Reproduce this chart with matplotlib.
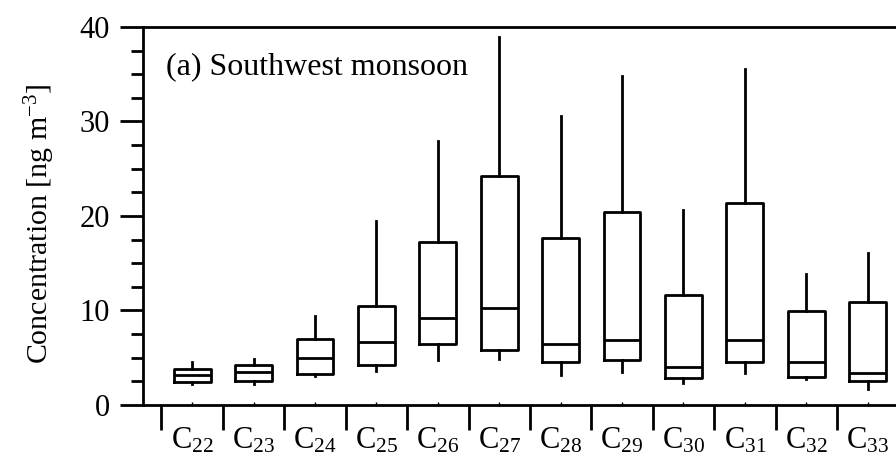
import matplotlib
matplotlib.use("Agg")
import matplotlib.pyplot as plt

plt.rcParams["font.family"] = ["Liberation Serif", "DejaVu Serif"]
plt.rcParams["mathtext.fontset"] = "custom"
plt.rcParams["mathtext.rm"] = "Liberation Serif"
plt.rcParams["mathtext.it"] = "Liberation Serif:italic"

# n-alkane homologues C22..C33
carbons = [22, 23, 24, 25, 26, 27, 28, 29, 30, 31, 32, 33]
whisker_low = [2.2, 2.2, 3.1, 3.6, 4.8, 4.9, 3.2, 3.5, 2.3, 3.4, 2.7, 1.7]
q1 = [2.4, 2.5, 3.3, 4.2, 6.5, 5.8, 4.5, 4.8, 2.9, 4.6, 3.0, 2.5]
median = [3.2, 3.5, 5.0, 6.7, 9.2, 10.3, 6.5, 6.9, 4.0, 6.9, 4.5, 3.4]
q3 = [3.8, 4.2, 7.0, 10.5, 17.2, 24.2, 17.7, 20.4, 11.6, 21.4, 9.9, 10.9]
whisker_high = [4.5, 4.9, 9.4, 19.5, 27.9, 38.9, 30.6, 34.8, 20.6, 35.6, 13.9, 16.1]

stats = []
for i, c in enumerate(carbons):
    stats.append({
        "label": f"C$_{{{c}}}$",
        "whislo": whisker_low[i],
        "q1": q1[i],
        "med": median[i],
        "q3": q3[i],
        "whishi": whisker_high[i],
    })

fig = plt.figure(figsize=(8.96, 4.62), dpi=100)
ax = fig.add_axes([0.1596, 0.1234, 0.8404, 0.8182])

lw = 2.0
positions = list(range(len(carbons)))
ax.bxp(stats, positions=positions, widths=0.6, showcaps=False, showfliers=False,
       boxprops=dict(color="black", linewidth=lw),
       whiskerprops=dict(color="black", linewidth=lw),
       medianprops=dict(color="black", linewidth=lw))

ax.set_xlim(-0.8, 11.46)
ax.set_ylim(0, 40)

ax.spines["right"].set_visible(False)
for s in ["left", "top", "bottom"]:
    ax.spines[s].set_linewidth(lw)

ax.set_yticks([0, 10, 20, 30, 40])
ax.set_yticks([v * 2.5 for v in range(17)], minor=True)
ax.tick_params(axis="y", which="major", direction="out", length=16.5, width=lw, labelsize=22, pad=7.5)
ax.tick_params(axis="y", which="minor", direction="out", length=8.5, width=lw)

ax.set_xticks(positions)
ax.set_xticklabels([s["label"] for s in stats])
ax.set_xticks([p - 0.5 for p in positions], minor=True)
ax.tick_params(axis="x", which="major", direction="in", length=2, width=1, labelsize=22, pad=15)
ax.tick_params(axis="x", which="minor", direction="out", length=18, width=lw)

ax.set_ylabel("Concentration [ng m$^{-3}$]", fontsize=21.5, va="center")
ax.yaxis.set_label_coords(-0.137, 0.48)
ax.text(0.03, 0.894, "(a) Southwest monsoon", transform=ax.transAxes,
        fontsize=23, ha="left", va="center")

fig.savefig("out.png", dpi=100)
